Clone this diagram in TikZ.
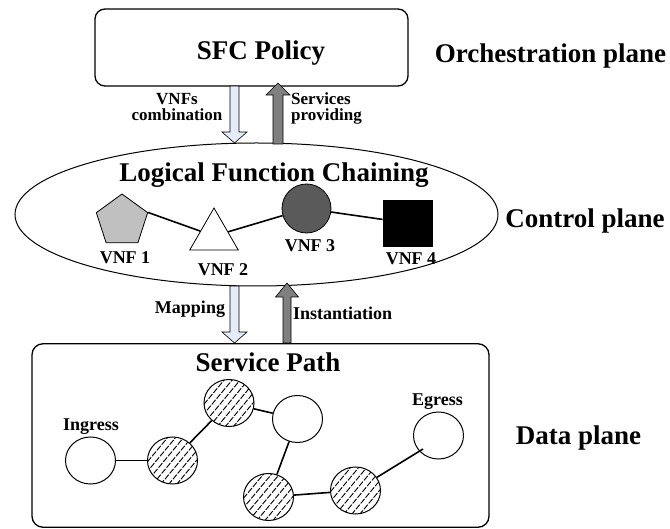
\documentclass[tikz,border=0pt]{standalone}
\usepackage{fontspec}
\setmainfont{Liberation Serif}
\usetikzlibrary{shapes.geometric}
\definecolor{lightarrow}{HTML}{E4ECF7}
\definecolor{grayarrow}{HTML}{7F7F7F}
\definecolor{pentfill}{HTML}{C0C0C0}
\definecolor{vnfthree}{HTML}{5A5A5A}
\tikzset{
  big/.style={font=\bfseries\fontsize{27}{30}\selectfont, inner sep=0pt, anchor=base},
  small/.style={font=\bfseries\fontsize{18}{20}\selectfont, inner sep=0pt, anchor=base},
  twoline/.style={font=\bfseries\fontsize{17}{16.5}\selectfont, inner sep=0pt},
  edge/.style={line width=1.6pt},
  blockdown/.style={draw=black, line width=0.6pt, fill=lightarrow},
  blockup/.style={draw=black, line width=0.6pt, fill=grayarrow},
  dpcircle/.style={draw, line width=1pt, ellipse, minimum width=50pt, minimum height=47pt, inner sep=0pt, fill=white},
  hatched/.style={dpcircle, path picture={
    \foreach \i in {-6,...,6}{
      \draw[line width=0.9pt, dash pattern=on 6pt off 1.5pt]
        ([xshift=\i*8pt-30pt, yshift=-36pt]path picture bounding box.center) -- ++(60pt,72pt);
    }}},
}
\begin{document}
\begin{tikzpicture}[x=1pt, y=-1pt]
\useasboundingbox (0,0) rectangle (670,529);
% Orchestration
\node[draw, line width=1.3pt, rounded corners=10pt, minimum width=313pt, minimum height=77pt, inner sep=0pt] (policy) at (251.5,47.5) {};
\node[big] (policytext) at (261,60) {SFC Policy};
\node[big] (orch) at (550.5,63) {Orchestration plane};
% Control plane ellipse
\node[draw, line width=1pt, ellipse, minimum width=483pt, minimum height=143pt, inner sep=0pt] (ctrl) at (256.5,214.5) {};
\node[big] (lfc) at (274,182) {Logical Function Chaining};
\node[big] (ctrltext) at (585,228) {Control plane};
% arrows between policy and control
\draw[blockdown] (230,86) -- (239,86) -- (239,132) -- (247,132) -- (234.5,143) -- (222,132) -- (230,132) -- cycle;
\draw[blockup] (273,144) -- (273,95) -- (266,95) -- (278,83) -- (290,95) -- (283,95) -- (283,144) -- cycle;
\node[twoline, align=center, anchor=base] (vnfs) at (177,121) {VNFs\\combination};
\node[twoline, align=left, anchor=base west] (serv) at (291,121) {Services\\providing};
% VNFs
\node[draw, line width=0.8pt, regular polygon, regular polygon sides=5, minimum size=54pt, inner sep=0pt, fill=pentfill] (v1) at (122,221) {};
\node[draw, line width=0.8pt, regular polygon, regular polygon sides=3, minimum size=56pt, inner sep=0pt, fill=white] (v2) at (214,236) {};
\node[draw, line width=0.8pt, circle, minimum size=49pt, inner sep=0pt, fill=vnfthree] (v3) at (306.5,208.5) {};
\node[draw, line width=0.8pt, rectangle, minimum width=49pt, minimum height=46pt, inner sep=0pt, fill=black] (v4) at (407.5,223) {};
\draw[edge] (v1.corner 5) -- (v2);
\draw[edge] (v2) -- (v3);
\draw[edge] (v3) -- (v4);
\node[small] (l1) at (125,264) {VNF 1};
\node[small] (l2) at (223,276) {VNF 2};
\node[small] (l3) at (310,252) {VNF 3};
\node[small] (l4) at (411,265) {VNF 4};
% arrows between control and data
\draw[blockdown] (230,286) -- (239,286) -- (239,332) -- (247,332) -- (234.5,343) -- (222,332) -- (230,332) -- cycle;
\draw[blockup] (283,343) -- (283,297) -- (275.5,297) -- (287,283) -- (298.5,297) -- (291,297) -- (291,343) -- cycle;
\node[small] (map) at (190,314) {Mapping};
\node[small, anchor=base west] (inst) at (293,320) {Instantiation};
% Data plane
\node[draw, line width=1.3pt, rounded corners=11pt, minimum width=457pt, minimum height=183.5pt, inner sep=0pt] (data) at (260.5,435.5) {};
\node[big] (sp) at (268,372) {Service Path};
\node[big] (dptext) at (578.5,445) {Data plane};
\node[dpcircle] (in) at (90.5,460.5) {};
\node[hatched] (h1) at (172.5,460.5) {};
\node[hatched] (h2) at (229,403) {};
\node[dpcircle] (w3) at (297.5,419) {};
\node[hatched] (h4) at (268.5,497) {};
\node[hatched] (h5) at (355.5,490.5) {};
\node[dpcircle] (eg) at (438.5,435.5) {};
\coordinate (egin) at (423,449);
\draw[edge] (in) -- (h1);
\draw[edge] (h1) -- (h2);
\draw[edge] (h2) -- (w3);
\draw[edge] (w3) -- (h4);
\draw[edge] (h4) -- (h5);
\draw[edge] (h5) -- (egin);
\node[small] (ing) at (91,431) {Ingress};
\node[small] (egr) at (437.5,406) {Egress};
\end{tikzpicture}
\end{document}
